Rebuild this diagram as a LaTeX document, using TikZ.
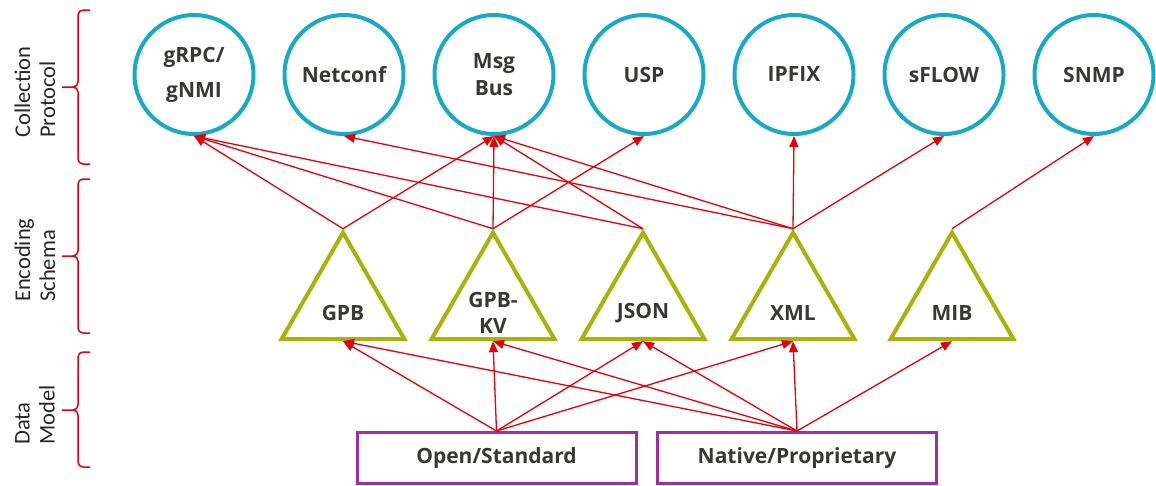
\documentclass[tikz,border=0pt]{standalone}
\usepackage{fontspec}
\setmainfont{Open Sans}
\newfontfamily\sidefont{Carlito}
\usetikzlibrary{shapes.geometric, arrows.meta}

\definecolor{protoblue}{RGB}{22,170,198}
\definecolor{encgreen}{RGB}{166,180,8}
\definecolor{modelpurple}{RGB}{158,46,166}
\definecolor{linkred}{RGB}{230,0,8}
\definecolor{txtgray}{RGB}{56,56,52}

\begin{document}
\begin{tikzpicture}[
    x=1pt, y=-1pt,
    proto/.style={circle, draw=protoblue, line width=4pt, minimum size=119pt, inner sep=0pt,
      align=center, text=txtgray, font=\fontsize{21}{27}\selectfont\bfseries},
    enc/.style={regular polygon, regular polygon sides=3, draw=encgreen, line width=4pt,
      minimum size=142pt, inner sep=0pt},
    enclbl/.style={align=center, text=txtgray, yshift=-9pt, font=\fontsize{21}{26}\selectfont\bfseries},
    model/.style={rectangle, draw=modelpurple, line width=3pt, minimum width=279pt, minimum height=51pt,
      text=txtgray, font=\fontsize{21}{26}\selectfont\bfseries},
    feed/.style={draw=linkred, line width=1.3pt, -{Triangle[length=11pt,width=9pt]}},
    layer/.style={rotate=90, anchor=west, inner sep=0pt, align=left, text=black!85,
      font=\sidefont\fontsize{22.5}{25}\selectfont},
    bracket/.style={draw=linkred, line width=1.5pt, rounded corners=5pt}
  ]
  \useasboundingbox (0,0) rectangle (1156,485);

  % collection protocols
  \node[proto] (grpc) at (194,74.5) {gRPC/\\[8pt]gNMI};
  \node[proto] (netconf) at (344,74.5) {Netconf};
  \node[proto] (msgbus) at (494,74.5) {Msg\\Bus};
  \node[proto] (usp) at (644,74.5) {USP};
  \node[proto] (ipfix) at (794,74.5) {IPFIX};
  \node[proto] (sflow) at (944,74.5) {sFLOW};
  \node[proto] (snmp) at (1094,74.5) {SNMP};

  % encoding schemas
  \node[enc, label={[enclbl]center:GPB}] (gpb) at (343,303.7) {};
  \node[enc, label={[enclbl]center:{GPB-\\KV}}] (gpbkv) at (493,303.7) {};
  \node[enc, label={[enclbl]center:JSON}] (json) at (643,303.7) {};
  \node[enc, label={[enclbl]center:XML}] (xml) at (793,303.7) {};
  \node[enc, label={[enclbl]center:MIB}] (mib) at (952,303.7) {};

  % data models
  \node[model] (open) at (496.5,458) {Open/Standard};
  \node[model] (native) at (797,458) {Native/Proprietary};

  \foreach \a/\b in {gpb/grpc, gpb/msgbus, gpbkv/grpc, gpbkv/msgbus, gpbkv/usp,
      json/grpc, json/msgbus, xml/netconf, xml/msgbus, xml/ipfix, xml/sflow, mib/snmp}
    \draw[feed] (\a.north) -- (\b.south);

  \foreach \a/\b in {open/gpb, open/gpbkv, open/json, open/xml,
      native/gpb, native/gpbkv, native/json, native/xml, native/mib}
    \draw[feed] (\a.north) -- (\b.south);

  % layer brackets
  \foreach \t/\m/\b in {10/87/164, 179/256/333, 352/410/467}
    \draw[bracket] (90,\t) -- (78,\t) -- (78,\m) -- (62,\m) (62,\m) -- (78,\m) -- (78,\b) -- (90,\b);

  \node[layer] (cp-label) at (35,138) {Collection\\Protocol};
  \node[layer] (es-label) at (35,302) {Encoding\\Schema};
  \node[layer] (dm-label) at (35,445) {Data\\Model};
\end{tikzpicture}
\end{document}
